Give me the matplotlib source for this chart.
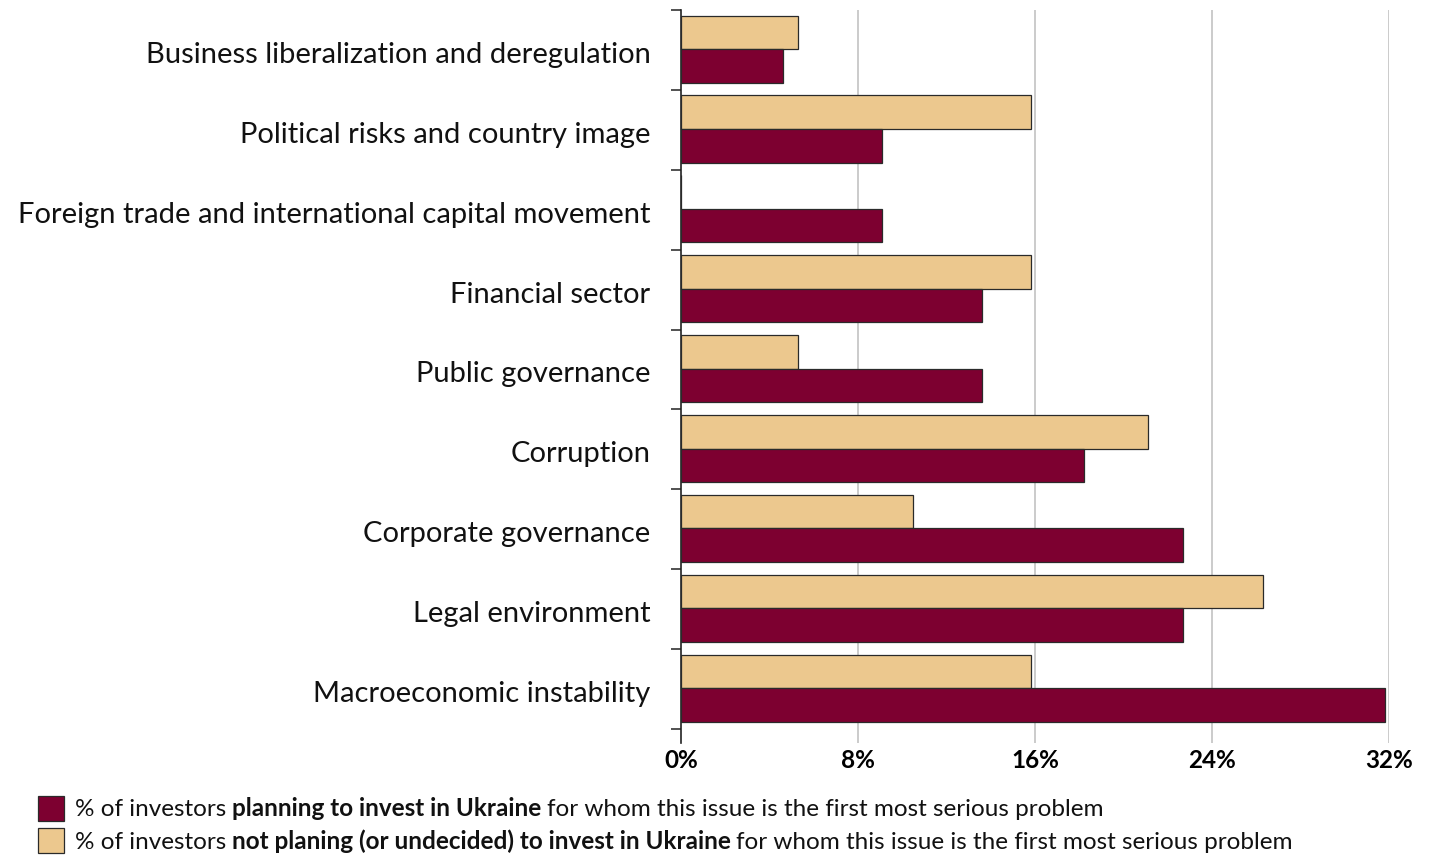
import matplotlib.pyplot as plt
from matplotlib.patches import Rectangle
from matplotlib.offsetbox import TextArea, HPacker, AnchoredOffsetbox

plt.rcParams['font.family'] = ['Lato', 'DejaVu Sans']

categories = [
    "Business liberalization and deregulation",
    "Political risks and country image",
    "Foreign trade and international capital movement",
    "Financial sector",
    "Public governance",
    "Corruption",
    "Corporate governance",
    "Legal environment",
    "Macroeconomic instability",
]
planning = [4.6, 9.1, 9.1, 13.6, 13.6, 18.2, 22.7, 22.7, 31.8]
not_planning = [5.3, 15.8, 0.0, 15.8, 5.3, 21.1, 10.5, 26.3, 15.8]
x_ticks = [0, 8, 16, 24, 32]

maroon = '#7d0030'
tan = '#ecc88e'
edge = '#2a2a2a'

W, H = 1430, 856
fig = plt.figure(figsize=(W / 100, H / 100), dpi=100)
ax = fig.add_axes([681 / W, 1 - 743 / H, (1389 - 681) / W, (743 - 10) / H])

pos = list(range(len(categories)))
h = 0.42
ax.barh([p - 0.22 for p in pos], not_planning, height=h, color=tan,
        edgecolor=edge, linewidth=0.9, zorder=3)
ax.barh([p + 0.20 for p in pos], planning, height=h, color=maroon,
        edgecolor=edge, linewidth=0.9, zorder=3)

ax.set_xlim(0, 32)
ax.set_ylim(8.5 + 14 / 80, -0.5)

# grid lines
for t in x_ticks[1:]:
    ax.axvline(t, color='#bdbdbd', linewidth=1.1, zorder=1)

ax.set_xticks(x_ticks)
ax.set_xticklabels([f"{t}%" for t in x_ticks], fontsize=17.5, fontweight='bold')
ax.tick_params(axis='x', length=0, pad=4)

# category labels sit a touch below the row centre
ax.set_yticks([p + 0.03 for p in pos])
ax.set_yticklabels(categories, fontsize=21, color='#111111')
ax.tick_params(axis='y', which='major', length=0, pad=22)
ax.set_yticks([p - 0.5 for p in pos] + [8.5], minor=True)
ax.tick_params(axis='y', which='minor', length=7, width=1.2, color='#333333')

for s in ['top', 'right', 'bottom']:
    ax.spines[s].set_visible(False)
ax.spines['left'].set_color('#222222')
ax.spines['left'].set_linewidth(1.2)

# legend
legend_rows = [
    (maroon, ["% of investors", "planning to invest in Ukraine",
              "for whom this issue is the first most serious problem"], 809),
    (tan, ["% of investors", "not planing (or undecided) to invest in Ukraine",
           "for whom this issue is the first most serious problem"], 841),
]
for color, parts, yc in legend_rows:
    fig.add_artist(Rectangle((38 / W, 1 - (yc + 12) / H), 26 / W, 25 / H,
                             transform=fig.transFigure, facecolor=color,
                             edgecolor=edge, linewidth=0.9))
    boxes = [TextArea(parts[0], textprops=dict(fontsize=17.5, color='#111111')),
             TextArea(parts[1], textprops=dict(fontsize=17.5, color='#111111',
                                               fontweight='bold')),
             TextArea(parts[2], textprops=dict(fontsize=17.5, color='#111111'))]
    pack = HPacker(children=boxes, align='baseline', pad=0, sep=4)
    anchored = AnchoredOffsetbox(loc='center left', child=pack, pad=0,
                                 borderpad=0, frameon=False,
                                 bbox_to_anchor=(75 / W, 1 - yc / H),
                                 bbox_transform=fig.transFigure)
    fig.add_artist(anchored)

fig.savefig('out.png', dpi=100)
